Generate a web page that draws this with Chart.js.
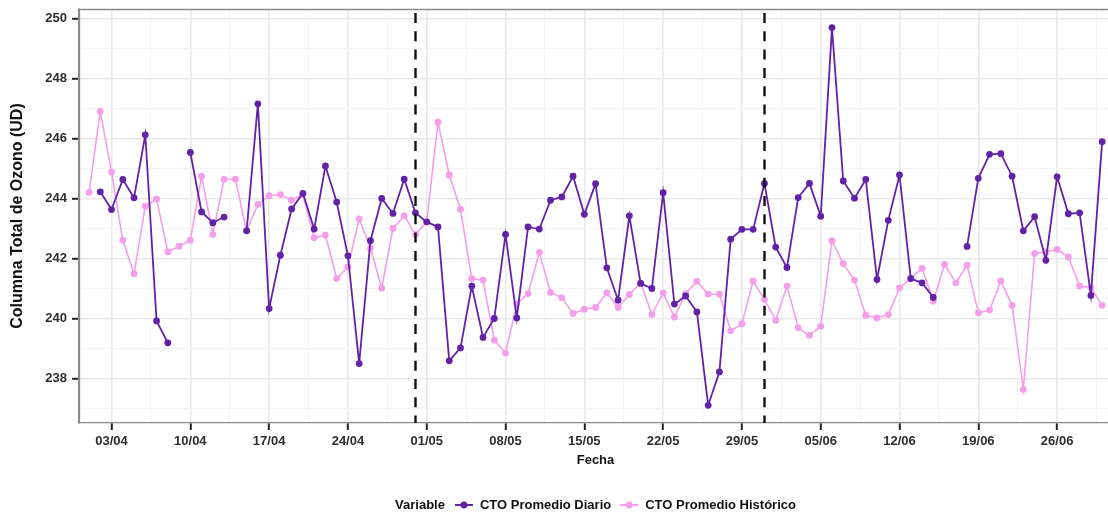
<!DOCTYPE html>
<html lang="es">
<head>
<meta charset="utf-8">
<title>Columna Total de Ozono</title>
<script src="https://cdn.jsdelivr.net/npm/chart.js@4/dist/chart.umd.min.js"></script>
<style>
  html, body { margin: 0; padding: 0; background: #ffffff; }
  #wrap { width: 1108px; height: 514px; }
</style>
</head>
<body>
<div id="wrap"><canvas id="ozono" width="1108" height="514"></canvas></div>
<script>
// Días del periodo (01/04 – 30/06)
const dates = [
  '01/04','02/04','03/04','04/04','05/04','06/04','07/04','08/04','09/04','10/04',
  '11/04','12/04','13/04','14/04','15/04','16/04','17/04','18/04','19/04','20/04',
  '21/04','22/04','23/04','24/04','25/04','26/04','27/04','28/04','29/04','30/04',
  '01/05','02/05','03/05','04/05','05/05','06/05','07/05','08/05','09/05','10/05',
  '11/05','12/05','13/05','14/05','15/05','16/05','17/05','18/05','19/05','20/05',
  '21/05','22/05','23/05','24/05','25/05','26/05','27/05','28/05','29/05','30/05','31/05',
  '01/06','02/06','03/06','04/06','05/06','06/06','07/06','08/06','09/06','10/06',
  '11/06','12/06','13/06','14/06','15/06','16/06','17/06','18/06','19/06','20/06',
  '21/06','22/06','23/06','24/06','25/06','26/06','27/06','28/06','29/06','30/06'
];

// CTO promedio diario (UD); null = día sin dato
const promedioDiario = [
  null, 244.22, 243.63, 244.63, 244.02, 246.12, 239.92, 239.19, null, 245.53,
  243.55, 243.19, 243.38, null, 242.92, 247.15, 240.33, 242.11, 243.65, 244.17,
  242.98, 245.08, 243.88, 242.09, 238.50, 242.59, 244.00, 243.50, 244.64, 243.52,
  243.22, 243.05, 238.59, 239.02, 241.08, 239.37, 240.00, 242.80, 240.02, 243.05,
  242.98, 243.94, 244.05, 244.74, 243.47, 244.49, 241.69, 240.61, 243.42, 241.17,
  241.00, 244.19, 240.48, 240.75, 240.22, 237.11, 238.22, 242.64, 242.97, 242.97, 244.50,
  242.38, 241.70, 244.03, 244.50, 243.41, 249.69, 244.58, 244.01, 244.63, 241.30,
  243.27, 244.78, 241.33, 241.19, 240.70, null, null, 242.40, 244.67, 245.47,
  245.49, 244.74, 242.92, 243.39, 241.94, 244.72, 243.49, 243.52, 240.77, 245.89
];

// CTO promedio histórico (UD)
const promedioHistorico = [
  244.20, 246.90, 244.88, 242.61, 241.49, 243.74, 243.98, 242.22, 242.41, 242.61,
  244.74, 242.80, 244.64, 244.64, 242.92, 243.80, 244.09, 244.13, 243.94, 244.13,
  242.69, 242.78, 241.33, 241.72, 243.32, 242.35, 241.01, 243.00, 243.42, 242.80,
  243.22, 246.54, 244.78, 243.64, 241.33, 241.28, 239.28, 238.85, 240.48, 240.83,
  242.20, 240.87, 240.69, 240.17, 240.31, 240.37, 240.85, 240.37, 240.80, 241.19,
  240.13, 240.85, 240.05, 240.83, 241.24, 240.81, 240.81, 239.59, 239.83, 241.25, 240.64,
  239.94, 241.08, 239.69, 239.44, 239.74, 242.59, 241.83, 241.28, 240.11, 240.02,
  240.13, 241.02, 241.34, 241.67, 240.58, 241.80, 241.19, 241.78, 240.19, 240.28,
  241.25, 240.44, 237.64, 242.17, 242.22, 242.30, 242.05, 241.08, 241.03, 240.44
];

// Etiquetas del eje X (semanales)
const xTickLabels = ['03/04','10/04','17/04','24/04','01/05','08/05','15/05','22/05','29/05','05/06','12/06','19/06','26/06'];
// Etiquetas del eje Y
const yTickValues = [238, 240, 242, 244, 246, 248, 250];
// Fechas marcadas con línea discontinua (cambio de mes)
const markerDates = ['30/04', '31/05'];

const seriesNames = ['CTO Promedio Diario', 'CTO Promedio Histórico'];
const colorDiario = '#6222a8';
const colorHistorico = '#f59ee9';

const FONT = "'Liberation Sans', Arial, Helvetica, sans-serif";
const TEXT_COLOR = '#2e2e2e';

const X_MIN = -0.89, X_MAX = 90.52;
const idx = d => dates.indexOf(d);
const xMajor = xTickLabels.map(idx);
const xMinor = xMajor.map(v => v + 3.5).concat([xMajor[0] - 3.5]).filter(v => v > X_MIN && v < X_MAX);
const yMinor = yTickValues.map(v => v - 1);

const toPoints = arr => arr.map((v, i) => ({ x: i, y: v }));

// Sin márgenes automáticos: el área del gráfico la fija la maquetación
const noAutoPadding = s => {
  s.paddingTop = 0; s.paddingBottom = 0; s.paddingLeft = 0; s.paddingRight = 0;
};

// Líneas discontinuas, borde del panel, títulos y leyenda
const decorPlugin = {
  id: 'decor',
  afterDatasetsDraw(chart) {
    const { ctx, chartArea: a, scales } = chart;
    ctx.save();
    ctx.strokeStyle = '#111111';
    ctx.lineWidth = 2.4;
    ctx.setLineDash([10, 8.3]);
    ctx.lineDashOffset = 14.3;
    markerDates.forEach(d => {
      const px = Math.round(scales.x.getPixelForValue(idx(d))) + 0.5;
      ctx.beginPath();
      ctx.moveTo(px, a.top);
      ctx.lineTo(px, a.bottom);
      ctx.stroke();
    });
    ctx.restore();
  },
  afterDraw(chart) {
    const { ctx, chartArea: a } = chart;
    ctx.save();
    ctx.strokeStyle = '#8a8a8a';
    ctx.lineWidth = 1.3;
    ctx.beginPath();
    ctx.moveTo(a.left + 0.5, a.bottom);
    ctx.lineTo(a.left + 0.5, a.top + 0.5);
    ctx.lineTo(a.right, a.top + 0.5);
    ctx.stroke();

    const cx = (a.left + a.right) / 2;
    ctx.fillStyle = '#111111';
    ctx.textBaseline = 'middle';
    ctx.textAlign = 'center';
    ctx.font = 'bold 13px ' + FONT;
    ctx.fillText('Fecha', cx + 2, 460);

    ctx.save();
    ctx.translate(18, (a.top + a.bottom) / 2);
    ctx.rotate(-Math.PI / 2);
    ctx.font = 'bold 16px ' + FONT;
    ctx.fillText('Columna Total de Ozono (UD)', 0, 0);
    ctx.restore();

    // leyenda
    const ly = 505;
    const title = 'Variable';
    const keyW = 18, gapTitle = 10, gapKey = 7, gapItem = 9;
    ctx.font = 'bold 13px ' + FONT;
    const wTitle = ctx.measureText(title).width;
    const wItems = seriesNames.map(s => ctx.measureText(s).width);
    const total = wTitle + gapTitle + (keyW + gapKey) * 2 + wItems[0] + gapItem + wItems[1];
    let x = cx + 2 - total / 2;
    ctx.textAlign = 'left';
    ctx.fillText(title, x, ly);
    x += wTitle + gapTitle;
    [colorDiario, colorHistorico].forEach((c, k) => {
      ctx.strokeStyle = c;
      ctx.lineWidth = 2;
      ctx.beginPath();
      ctx.moveTo(x, ly);
      ctx.lineTo(x + keyW, ly);
      ctx.stroke();
      ctx.fillStyle = c;
      ctx.beginPath();
      ctx.arc(x + keyW / 2, ly, 3.4, 0, Math.PI * 2);
      ctx.fill();
      x += keyW + gapKey;
      ctx.fillStyle = '#111111';
      ctx.fillText(seriesNames[k], x, ly);
      x += wItems[k] + gapItem;
    });
    ctx.restore();
  }
};

const isMajorX = v => xMajor.includes(v);
const isMajorY = v => yTickValues.includes(v);

new Chart(document.getElementById('ozono'), {
  type: 'line',
  data: {
    datasets: [
      {
        label: seriesNames[0],
        data: toPoints(promedioDiario),
        borderColor: colorDiario,
        backgroundColor: colorDiario,
        borderWidth: 1.8,
        pointRadius: 3.4,
        pointBorderWidth: 0,
        spanGaps: false,
        tension: 0
      },
      {
        label: seriesNames[1],
        data: toPoints(promedioHistorico),
        borderColor: colorHistorico,
        backgroundColor: colorHistorico,
        borderWidth: 1.6,
        pointRadius: 3.4,
        pointBorderWidth: 0,
        spanGaps: false,
        tension: 0
      }
    ]
  },
  options: {
    responsive: false,
    animation: false,
    events: [],
    layout: { autoPadding: false, padding: { left: 0, right: 0, top: 9, bottom: 0 } },
    plugins: { legend: { display: false }, tooltip: { enabled: false } },
    scales: {
      x: {
        type: 'linear',
        min: X_MIN,
        max: X_MAX,
        afterBuildTicks: s => {
          s.ticks = xMajor.concat(xMinor).sort((p, q) => p - q).map(v => ({ value: v }));
        },
        afterFit: s => { s.height = 91; noAutoPadding(s); },
        border: { display: true, color: '#8a8a8a', width: 1.3 },
        grid: {
          drawOnChartArea: true,
          color: c => isMajorX(c.tick.value) ? '#e9e9e9' : '#f4f4f4',
          lineWidth: c => isMajorX(c.tick.value) ? 1.6 : 1,
          tickColor: c => isMajorX(c.tick.value) ? '#222222' : 'rgba(0,0,0,0)',
          tickLength: 7,
          tickWidth: 2
        },
        ticks: {
          autoSkip: false,
          maxRotation: 0,
          padding: 4,
          color: TEXT_COLOR,
          font: { family: FONT, size: 13, weight: 'bold' },
          callback: v => isMajorX(v) ? dates[v] : ''
        }
      },
      y: {
        min: 236.52,
        max: 250.31,
        afterBuildTicks: s => {
          s.ticks = yTickValues.concat(yMinor).sort((p, q) => p - q).map(v => ({ value: v }));
        },
        afterFit: s => { s.width = 79; noAutoPadding(s); },
        border: { display: true, color: '#8a8a8a', width: 1.3 },
        grid: {
          color: c => isMajorY(c.tick.value) ? '#e9e9e9' : '#f4f4f4',
          lineWidth: c => isMajorY(c.tick.value) ? 1.6 : 1,
          tickColor: c => isMajorY(c.tick.value) ? '#222222' : 'rgba(0,0,0,0)',
          tickLength: 7,
          tickWidth: 2
        },
        ticks: {
          autoSkip: false,
          padding: 5,
          color: TEXT_COLOR,
          font: { family: FONT, size: 13, weight: 'bold' },
          callback: v => isMajorY(v) ? String(v) : ''
        }
      }
    }
  },
  plugins: [decorPlugin]
});
</script>
</body>
</html>
